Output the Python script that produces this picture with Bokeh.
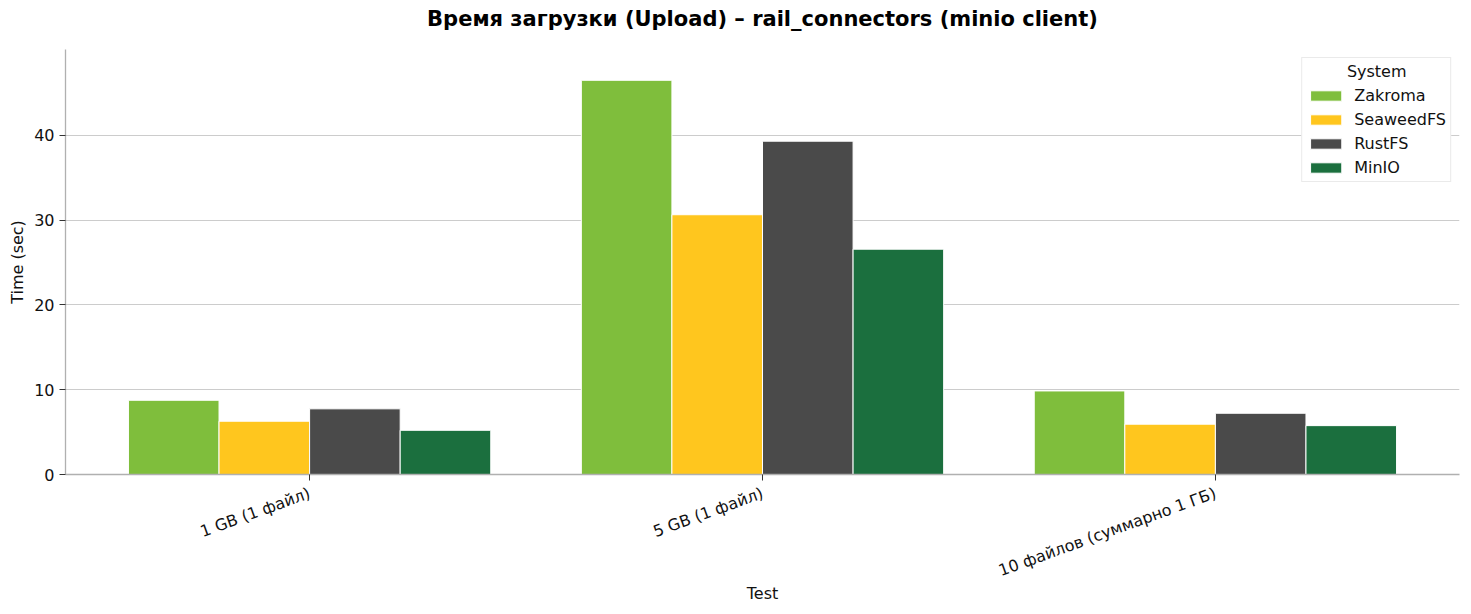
import math
from bokeh.plotting import figure
from bokeh.models import ColumnDataSource, FactorRange, FixedTicker, Legend, LegendItem, Title
from bokeh.transform import dodge
from bokeh.embed import file_html
from bokeh.resources import INLINE

tests = ["1 GB (1 файл)", "5 GB (1 файл)", "10 файлов (суммарно 1 ГБ)"]
systems = ["Zakroma", "SeaweedFS", "RustFS", "MinIO"]
zakroma = [8.75, 46.47, 9.85]
seaweedfs = [6.28, 30.62, 5.93]
rustfs = [7.74, 39.29, 7.22]
minio = [5.21, 26.56, 5.76]
colors = ["#7FBE3C", "#FFC61E", "#4A4A4A", "#1B6F3E"]
y_ticks = [0, 10, 20, 30, 40]

FONT = "DejaVu Sans"

source = ColumnDataSource(dict(test=tests, Zakroma=zakroma, SeaweedFS=seaweedfs,
                               RustFS=rustfs, MinIO=minio))

x_range = FactorRange(factors=tests, range_padding=0.039, range_padding_units="absolute")
p = figure(x_range=x_range, y_range=(0, 50.1), width=1460, height=606,
           output_backend="svg", toolbar_location=None,
           title="Время загрузки (Upload) – rail_connectors (minio client)",
           min_border_left=65, min_border_right=1, min_border_top=49, min_border_bottom=120)

bar_w = 0.2
offsets = [-0.3, -0.1, 0.1, 0.3]
items = []
for name, off, col in zip(systems, offsets, colors):
    r = p.vbar(x=dodge("test", off, range=p.x_range), top=name, width=bar_w, source=source,
               fill_color=col, line_color="white", line_width=1)
    items.append(LegendItem(label=name, renderers=[r]))

legend = Legend(items=items, location="top_right", title="\u00a0" * 8 + "System",
                margin=8, padding=4, spacing=4, label_standoff=9,
                glyph_width=39, glyph_height=13, label_height=20,
                label_text_font=FONT, label_text_font_size="16px", label_text_color="#111111",
                title_text_font=FONT, title_text_font_size="16px", title_text_font_style="normal",
                title_text_color="#111111", title_standoff=4,
                border_line_color="#d5d5d5", border_line_width=1, background_fill_alpha=1.0)
p.add_layout(legend)

# spacer between frame and main title
p.add_layout(Title(text=" ", text_font_size="1px", standoff=16), "above")

p.title.text_font = FONT
p.title.text_font_size = "21px"
p.title.text_font_style = "bold"
p.title.align = "center"
p.title.text_color = "black"
p.title.standoff = 0

p.outline_line_color = None
p.xgrid.grid_line_color = None
p.ygrid.grid_line_color = "#cccccc"
p.ygrid.grid_line_width = 1

p.yaxis.ticker = FixedTicker(ticks=y_ticks)
for ax in (p.xaxis[0], p.yaxis[0]):
    ax.axis_line_color = "#b0b0b0"
    ax.axis_line_width = 1.3
    ax.major_tick_line_color = "#333333"
    ax.major_tick_out = 6
    ax.major_tick_in = 0
    ax.minor_tick_line_color = None
    ax.major_label_text_font = FONT
    ax.major_label_text_font_size = "16px"
    ax.major_label_text_color = "#111111"
    ax.axis_label_text_font = FONT
    ax.axis_label_text_font_size = "16px"
    ax.axis_label_text_font_style = "normal"
    ax.axis_label_text_color = "#111111"

p.xaxis.major_label_standoff = 12
p.yaxis.major_label_standoff = 5
p.xaxis.axis_label = "Test"
p.xaxis.major_label_orientation = math.radians(20)
p.xaxis.axis_label_standoff = -8
p.yaxis.axis_label = "Time (sec)"
p.yaxis.axis_label_standoff = 4

open("out.html", "w").write(file_html(p, INLINE))
